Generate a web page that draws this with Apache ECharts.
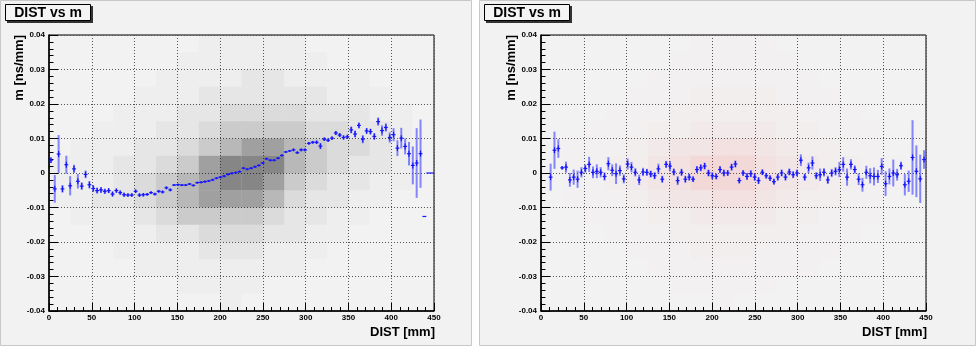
<!DOCTYPE html>
<html>
<head>
<meta charset="utf-8">
<script src="https://cdn.jsdelivr.net/npm/echarts@6/dist/echarts.min.js"></script>
<style>
  html, body { margin: 0; padding: 0; background: #ffffff; }
  #main { width: 977px; height: 347px; }
</style>
</head>
<body>
<div id="main"></div>
<script>
// profile bins: 100 bins of 4.5 mm over DIST 0..450
var binWidth = 4.5;
var binCenters = [];
for (var b = 0; b < 100; b++) binCenters.push(2.25 + b * binWidth);

var xTicks = [0, 50, 100, 150, 200, 250, 300, 350, 400, 450];
var yTicks = [-0.04, -0.03, -0.02, -0.01, 0, 0.01, 0.02, 0.03, 0.04];

// left pad: mean m per DIST bin and its error
var meanLeft = [
  0.0037, -0.0046, 0.0055, -0.0046, 0.0024, -0.0037, 0.0012, -0.0024, -0.0038, -0.0004,
  -0.0034, -0.0045, -0.0051, -0.0049, -0.0053, -0.0051, -0.0061, -0.0051, -0.0057, -0.0063,
  -0.0064, -0.0064, -0.0053, -0.0064, -0.0063, -0.0062, -0.0057, -0.0061, -0.0053, -0.0055,
  -0.0043, -0.0049, -0.0035, -0.0034, -0.0035, -0.0035, -0.0032, -0.0036, -0.0028, -0.0027,
  -0.0025, -0.0023, -0.0020, -0.0015, -0.0012, -0.0009, -0.0004, -0.0001, 0.0001, 0.0004,
  0.0014, 0.0011, 0.0014, 0.0018, 0.0022, 0.0029, 0.0041, 0.0037, 0.0037, 0.0043,
  0.0051, 0.0061, 0.0064, 0.0067, 0.0059, 0.0067, 0.0067, 0.0086, 0.0089, 0.0089,
  0.0078, 0.0098, 0.0095, 0.0101, 0.0116, 0.0110, 0.0103, 0.0105, 0.0125, 0.0113,
  0.0138, 0.0098, 0.0122, 0.0120, 0.0106, 0.0149, 0.0123, 0.0132, 0.0103, 0.0111,
  0.0072, 0.0101, 0.0077, 0.0056, 0.0022, 0.0029, 0.0056, -0.0126, 0, 0
];
var errLeft = [
  0.0008, 0.0040, 0.0055, 0.0011, 0.0026, 0.0028, 0.0012, 0.0021, 0.0011, 0.0011,
  0.0011, 0.0009, 0.0008, 0.0008, 0.0007, 0.0007, 0.0007, 0.0006, 0.0006, 0.0006,
  0.0005, 0.0005, 0.0005, 0.0005, 0.0005, 0.0004, 0.0004, 0.0004, 0.0004, 0.0004,
  0.0004, 0.0004, 0.0003, 0.0003, 0.0003, 0.0003, 0.0003, 0.0003, 0.0003, 0.0003,
  0.0003, 0.0003, 0.0003, 0.0003, 0.0003, 0.0003, 0.0003, 0.0003, 0.0003, 0.0003,
  0.0003, 0.0003, 0.0003, 0.0003, 0.0003, 0.0003, 0.0003, 0.0003, 0.0003, 0.0003,
  0.0003, 0.0003, 0.0003, 0.0004, 0.0004, 0.0004, 0.0004, 0.0004, 0.0004, 0.0005,
  0.0008, 0.0005, 0.0005, 0.0005, 0.0006, 0.0006, 0.0006, 0.0006, 0.0010, 0.0010,
  0.0008, 0.0012, 0.0008, 0.0008, 0.0009, 0.0012, 0.0015, 0.0012, 0.0015, 0.0019,
  0.0023, 0.0030, 0.0023, 0.0034, 0.0055, 0.0101, 0.0099, 0, 0, 0
];

// right pad (first two bins empty)
var meanRight = [
  null, null, -0.0012, 0.0066, 0.0071, 0.0015, 0.0017, -0.0020, -0.0012, -0.0018,
  0.0002, 0.0013, 0.0025, 0.0002, 0.0005, 0.0002, -0.0010, 0.0027, 0.0008, -0.0002,
  0.0007, -0.0017, 0.0026, 0.0017, 0.0002, -0.0020, 0.0003, 0.0002, -0.0003, -0.0008,
  0.0012, -0.0018, 0.0025, 0.0020, 0.0003, -0.0022, 0.0002, -0.0018, -0.0012, -0.0018,
  0.0010, 0.0015, 0.0020, 0.0000, -0.0008, -0.0010, 0.0010, 0.0000, 0.0000, 0.0017,
  0.0026, -0.0022, 0.0000, -0.0010, -0.0002, -0.0012, -0.0022, 0.0002, -0.0008, -0.0015,
  -0.0025, -0.0012, 0.0000, -0.0012, 0.0003, -0.0005, 0.0000, 0.0037, -0.0012, 0.0015,
  0.0029, -0.0008, -0.0005, 0.0002, -0.0020, 0.0000, 0.0005, 0.0010, 0.0025, -0.0012,
  0.0025, 0.0010, -0.0018, -0.0034, 0.0002, -0.0008, -0.0010, -0.0010, 0.0019, -0.0031,
  -0.0010, 0.0000, -0.0005, 0.0021, -0.0034, -0.0024, 0.0045, 0.0005, -0.0017, 0.0039
];
var errRight = [
  null, null, 0.0039, 0.0054, 0.0027, 0.0005, 0.0016, 0.0020, 0.0022, 0.0025,
  0.0015, 0.0012, 0.0022, 0.0017, 0.0020, 0.0015, 0.0012, 0.0019, 0.0017, 0.0030,
  0.0015, 0.0013, 0.0016, 0.0015, 0.0012, 0.0015, 0.0012, 0.0010, 0.0010, 0.0010,
  0.0015, 0.0010, 0.0010, 0.0015, 0.0010, 0.0013, 0.0010, 0.0010, 0.0010, 0.0008,
  0.0010, 0.0010, 0.0010, 0.0010, 0.0010, 0.0008, 0.0010, 0.0010, 0.0008, 0.0010,
  0.0010, 0.0008, 0.0008, 0.0010, 0.0010, 0.0010, 0.0010, 0.0008, 0.0008, 0.0008,
  0.0008, 0.0010, 0.0010, 0.0010, 0.0010, 0.0010, 0.0010, 0.0017, 0.0010, 0.0015,
  0.0019, 0.0010, 0.0018, 0.0012, 0.0012, 0.0012, 0.0012, 0.0022, 0.0021, 0.0025,
  0.0015, 0.0012, 0.0017, 0.0020, 0.0019, 0.0022, 0.0026, 0.0019, 0.0024, 0.0036,
  0.0023, 0.0039, 0.0017, 0.0012, 0.0031, 0.0031, 0.0108, 0.0075, 0.0070, 0.0027
];

// scatter density, read as coarse cells: 18 DIST cells of 25 mm, 16 m cells of 0.005
// rows listed from top (0.035..0.04) to bottom (-0.04..-0.035)
var cellW = 25, cellH = 0.005;
var densityLeft = [
  [0, 0, 0, 0, 0, 0, 0, 1, 1, 1, 1, 1, 0, 0, 0, 0, 0, 0],
  [0, 0, 0, 0, 0, 0, 1, 1, 1, 1, 1, 1, 1, 0, 0, 0, 0, 0],
  [0, 0, 0, 0, 0, 1, 1, 1, 1, 2, 2, 1, 1, 1, 1, 0, 0, 0],
  [0, 0, 0, 0, 1, 1, 1, 2, 2, 2, 2, 2, 2, 1, 1, 1, 0, 0],
  [0, 0, 0, 1, 1, 1, 2, 2, 3, 3, 3, 3, 2, 2, 2, 1, 1, 0],
  [0, 0, 1, 1, 1, 2, 2, 3, 4, 4, 4, 4, 3, 3, 2, 2, 1, 0],
  [0, 1, 1, 1, 2, 2, 3, 4, 5, 6, 6, 5, 4, 3, 3, 2, 1, 0],
  [1, 1, 1, 2, 2, 3, 4, 6, 7, 7, 7, 5, 4, 3, 2, 2, 1, 0],
  [1, 1, 1, 2, 3, 4, 5, 6, 7, 7, 6, 4, 3, 2, 2, 1, 1, 0],
  [1, 1, 2, 2, 3, 4, 5, 6, 6, 6, 5, 3, 2, 2, 1, 1, 0, 0],
  [0, 1, 1, 1, 2, 3, 4, 4, 4, 4, 3, 2, 2, 1, 1, 0, 0, 0],
  [0, 0, 1, 1, 1, 2, 2, 3, 3, 3, 2, 2, 1, 1, 0, 0, 0, 0],
  [0, 0, 0, 1, 1, 1, 1, 2, 2, 2, 1, 1, 1, 0, 0, 0, 0, 0],
  [0, 0, 0, 0, 1, 1, 1, 1, 1, 1, 1, 1, 0, 0, 0, 0, 0, 0],
  [0, 0, 0, 0, 0, 0, 1, 1, 1, 1, 0, 0, 0, 0, 0, 0, 0, 0],
  [0, 0, 0, 0, 0, 0, 0, 0, 1, 0, 0, 0, 0, 0, 0, 0, 0, 0]
];
var densityRight = [
  [0, 0, 0, 0, 0, 0, 0, 1, 1, 1, 1, 0, 0, 0, 0, 0, 0, 0],
  [0, 0, 0, 0, 0, 0, 1, 1, 1, 1, 1, 1, 0, 0, 0, 0, 0, 0],
  [0, 0, 0, 0, 0, 1, 1, 1, 1, 1, 1, 1, 1, 0, 0, 0, 0, 0],
  [0, 0, 0, 0, 1, 1, 1, 2, 2, 2, 2, 1, 1, 1, 0, 0, 0, 0],
  [0, 0, 0, 1, 1, 1, 2, 2, 2, 2, 2, 2, 1, 1, 1, 0, 0, 0],
  [0, 0, 1, 1, 1, 2, 2, 3, 3, 3, 3, 2, 2, 1, 1, 1, 0, 0],
  [0, 1, 1, 1, 2, 3, 4, 4, 5, 5, 4, 3, 2, 2, 1, 1, 0, 0],
  [0, 1, 1, 2, 2, 4, 5, 6, 6, 6, 5, 4, 3, 2, 2, 1, 1, 0],
  [0, 1, 1, 2, 3, 4, 5, 6, 6, 6, 5, 4, 3, 2, 2, 1, 1, 0],
  [0, 1, 1, 1, 2, 3, 4, 4, 5, 5, 4, 3, 2, 2, 1, 1, 0, 0],
  [0, 0, 1, 1, 1, 2, 2, 3, 3, 3, 3, 2, 2, 1, 1, 1, 0, 0],
  [0, 0, 0, 1, 1, 1, 2, 2, 2, 2, 2, 2, 1, 1, 1, 0, 0, 0],
  [0, 0, 0, 0, 1, 1, 1, 2, 2, 2, 1, 1, 1, 1, 0, 0, 0, 0],
  [0, 0, 0, 0, 0, 1, 1, 1, 1, 1, 1, 1, 1, 0, 0, 0, 0, 0],
  [0, 0, 0, 0, 0, 0, 1, 1, 1, 1, 1, 0, 0, 0, 0, 0, 0, 0],
  [0, 0, 0, 0, 0, 0, 0, 0, 1, 0, 0, 0, 0, 0, 0, 0, 0, 0]
];

var FONT = '"Liberation Sans", Arial, Helvetica, sans-serif';

function cellData(rows) {
  var out = [];
  for (var r = 0; r < rows.length; r++) {
    var y0 = yTicks[yTicks.length - 1] - (r + 1) * cellH;
    for (var c = 0; c < rows[r].length; c++) {
      if (rows[r][c] > 0) out.push([c * cellW, y0, rows[r][c]]);
    }
  }
  return out;
}

function profileData(means, errs) {
  var out = [];
  for (var i = 0; i < means.length; i++) {
    if (means[i] === null) continue;
    out.push([binCenters[i], means[i], errs[i]]);
  }
  return out;
}

// dot density -> cell shade; sparse cells stay very faint
function densitySeries(idx, rows, rgb, k) {
  return {
    type: 'custom',
    xAxisIndex: idx,
    yAxisIndex: idx,
    silent: true,
    data: cellData(rows),
    renderItem: function (params, api) {
      var x0 = api.value(0), y0 = api.value(1), v = api.value(2);
      var p0 = api.coord([x0, y0 + cellH]);
      var p1 = api.coord([x0 + cellW, y0]);
      var a = Math.min(1, k * (v * v + v) / 2);
      return {
        type: 'rect',
        shape: { x: p0[0], y: p0[1], width: p1[0] - p0[0], height: p1[1] - p0[1] },
        style: { fill: 'rgba(' + rgb + ',' + a.toFixed(3) + ')' }
      };
    }
  };
}

function profileSeries(idx, means, errs) {
  return {
    type: 'custom',
    xAxisIndex: idx,
    yAxisIndex: idx,
    silent: true,
    z: 5,
    data: profileData(means, errs),
    renderItem: function (params, api) {
      var x = api.value(0), y = api.value(1), e = api.value(2);
      var pl = api.coord([x - binWidth / 2, y]);
      var pr = api.coord([x + binWidth / 2, y]);
      var pc = api.coord([x, y]);
      var kids = [];
      if (e > 0) {
        var pt = api.coord([x, y + e]);
        var pb = api.coord([x, y - e]);
        kids.push({
          type: 'line',
          shape: { x1: pc[0], y1: pt[1], x2: pc[0], y2: pb[1] },
          style: { stroke: 'rgba(60,60,255,0.6)', lineWidth: 2 }
        });
        kids.push({
          type: 'line',
          shape: { x1: pc[0], y1: Math.max(pt[1], pc[1] - 3), x2: pc[0], y2: Math.min(pb[1], pc[1] + 3) },
          style: { stroke: '#1414ff', lineWidth: 1.2 }
        });
      }
      kids.push({
        type: 'line',
        shape: { x1: pl[0], y1: pc[1], x2: pr[0], y2: pc[1] },
        style: { stroke: '#1414ff', lineWidth: 1.2 }
      });
      return { type: 'group', children: kids };
    }
  };
}

function xAxisFor(idx) {
  return {
    gridIndex: idx,
    type: 'value',
    min: xTicks[0],
    max: xTicks[xTicks.length - 1],
    interval: xTicks[1] - xTicks[0],
    axisLine: { show: true, onZero: false, lineStyle: { color: '#000', width: 1.5 } },
    axisTick: { show: true, inside: true, length: 8, lineStyle: { color: '#000', width: 1 } },
    minorTick: { show: true, splitNumber: 5, length: 4, lineStyle: { color: '#000', width: 1 } },
    splitLine: { show: true, lineStyle: { color: '#555', type: [1, 2], width: 1 } },
    axisLabel: { color: '#000', fontSize: 8, fontWeight: 'bold', fontFamily: FONT, margin: 3 }
  };
}

function yAxisFor(idx) {
  return {
    gridIndex: idx,
    type: 'value',
    min: yTicks[0],
    max: yTicks[yTicks.length - 1],
    interval: yTicks[1] - yTicks[0],
    axisLine: { show: true, onZero: false, lineStyle: { color: '#000', width: 1.5 } },
    axisTick: { show: true, inside: true, length: 9, lineStyle: { color: '#000', width: 1 } },
    minorTick: { show: true, splitNumber: 5, length: 4.5, lineStyle: { color: '#000', width: 1 } },
    splitLine: { show: true, lineStyle: { color: '#555', type: [1, 2], width: 1 } },
    axisLabel: {
      color: '#000', fontSize: 8, fontWeight: 'bold', fontFamily: FONT, margin: 4,
      formatter: function (v) { return String(+v.toFixed(2)); }
    }
  };
}

function padGraphics(x0, x1) {
  var g = [];
  g.push({ type: 'rect', z: -10, shape: { x: x0 + 0.5, y: 0.5, width: x1 - x0, height: 345 },
    style: { fill: '#f2f2f2', stroke: '#c8c8c8', lineWidth: 1 } });
  // title box with shadow
  g.push({ type: 'rect', z: 10, shape: { x: x0 + 7, y: 6, width: 86, height: 17 }, style: { fill: '#333' } });
  g.push({ type: 'rect', z: 11, shape: { x: x0 + 5.5, y: 4.5, width: 85, height: 16 },
    style: { fill: '#f4f4f4', stroke: '#000', lineWidth: 1 } });
  g.push({ type: 'text', z: 12, x: x0 + 48, y: 13,
    style: { text: 'DIST vs m', fill: '#000', font: 'bold 14px ' + FONT, textAlign: 'center', textVerticalAlign: 'middle' } });
  return g;
}

function axisTitles(plotLeft, plotRight) {
  return [
    { type: 'text', z: 12, x: plotLeft - 30, y: 35, rotation: Math.PI / 2,
      style: { text: 'm [ns/mm]', fill: '#000', font: 'bold 13px ' + FONT, textAlign: 'right', textVerticalAlign: 'middle' } },
    { type: 'text', z: 12, x: plotRight + 1, y: 332,
      style: { text: 'DIST [mm]', fill: '#000', font: 'bold 13px ' + FONT, textAlign: 'right', textVerticalAlign: 'middle' } }
  ];
}

var chartDom = document.getElementById('main');
var myChart = echarts.init(chartDom, null, { renderer: 'canvas' });

var option = {
  animation: false,
  backgroundColor: '#ffffff',
  grid: [
    { left: 49, top: 35, width: 385, height: 276, show: true, borderColor: '#000', borderWidth: 1, backgroundColor: 'transparent' },
    { left: 541, top: 35, width: 385, height: 276, show: true, borderColor: '#000', borderWidth: 1, backgroundColor: 'transparent' }
  ],
  xAxis: [xAxisFor(0), xAxisFor(1)],
  yAxis: [yAxisFor(0), yAxisFor(1)],
  graphic: padGraphics(0, 471).concat(padGraphics(479, 975), axisTitles(49, 434), axisTitles(541, 926)),
  series: [
    densitySeries(0, densityLeft, '0,0,0', 0.016),
    profileSeries(0, meanLeft, errLeft),
    densitySeries(1, densityRight, '255,40,40', 0.006),
    profileSeries(1, meanRight, errRight)
  ]
};

option && myChart.setOption(option);
</script>
</body>
</html>
